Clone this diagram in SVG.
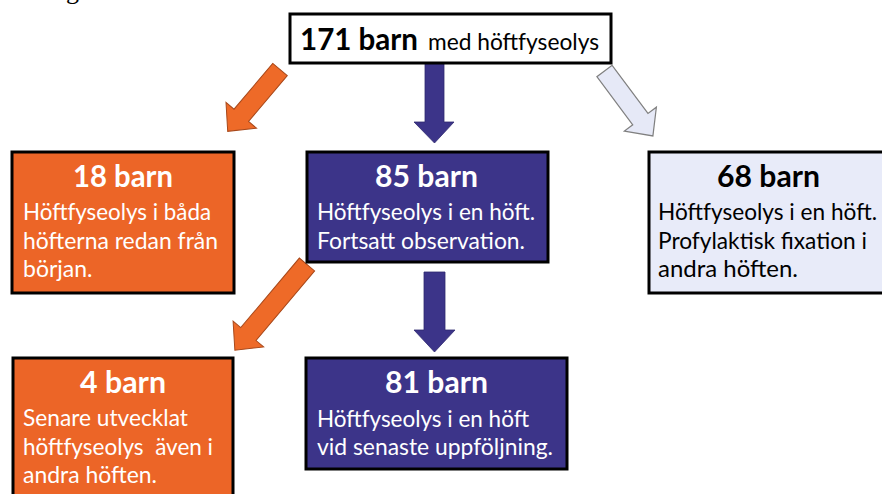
<svg xmlns="http://www.w3.org/2000/svg" width="882" height="494" viewBox="0 0 882 494">
<style>
.box{stroke:#000;stroke-width:3}
.or{fill:#EC6527}
.nv{fill:#3C3489}
.lt{fill:#E8EBF9}
.wt{fill:#fff}
text{font-family:Lato,"Open Sans","Liberation Sans",sans-serif}
.h{font-weight:bold;font-size:30px;text-anchor:middle}
.t{font-size:23px}
.arO{fill:#EE6A28;stroke:#A8481A;stroke-width:1}
.arN{fill:#3C3489;stroke:#2E2870;stroke-width:0.8}
.arL{fill:#E6E9F7;stroke:#808080;stroke-width:1.2}
</style>
<text x="66" y="-1" style="font-family:'Liberation Serif',serif;font-size:26px;fill:#000">g</text>
<g id="connectors">
<polygon class="arN" points="425,63 444,63 444,122 454,122 434.5,143 414,122 425,122"/>
<polygon class="arN" points="424,272 445,272 445,330 455,330 434.5,352 414,330 424,330"/>
<polygon class="arO" transform="translate(280,69.5) rotate(130.2)" points="0,-9.5 60,-9.5 60,-20 81,0 60,20 60,9.5 0,9.5"/>
<polygon class="arO" transform="translate(307,264.5) rotate(130.1)" points="0,-10 91,-10 91,-20 112,0 91,20 91,10 0,10"/>
<polygon class="arL" transform="translate(604.5,71) rotate(53.3)" points="0,-9.5 60,-9.5 60,-20 81,0 60,20 60,9.5 0,9.5"/>
</g>
<g id="n171">
<rect class="box" x="290" y="14" width="321" height="49" fill="#fff"/>
<text x="300" y="50" style="font-weight:bold;font-size:31px" textLength="118" lengthAdjust="spacingAndGlyphs">171 barn</text>
<text x="428" y="50" style="font-size:23px" textLength="171" lengthAdjust="spacingAndGlyphs">med höftfyseolys</text>
</g>
<g id="n18">
<rect class="box or" x="12" y="152" width="222" height="141"/>
<text class="h wt" x="123" y="187" textLength="100" lengthAdjust="spacingAndGlyphs">18 barn</text>
<text class="t wt" x="23" y="220" textLength="188" lengthAdjust="spacingAndGlyphs">Höftfyseolys i båda</text>
<text class="t wt" x="23" y="249" textLength="195" lengthAdjust="spacingAndGlyphs">höfterna redan från</text>
<text class="t wt" x="23" y="277">början.</text>
</g>
<g id="n85">
<rect class="box nv" x="307" y="152" width="241" height="110"/>
<text class="h wt" x="426.5" y="187" textLength="103" lengthAdjust="spacingAndGlyphs">85 barn</text>
<text class="t wt" x="317" y="220" textLength="218" lengthAdjust="spacingAndGlyphs">Höftfyseolys i en höft.</text>
<text class="t wt" x="317" y="249" textLength="208" lengthAdjust="spacingAndGlyphs">Fortsatt observation.</text>
</g>
<g id="n68">
<rect class="box lt" x="649" y="152" width="240" height="141"/>
<text class="h" x="768.5" y="187" textLength="103" lengthAdjust="spacingAndGlyphs">68 barn</text>
<text class="t" x="658" y="220" textLength="219" lengthAdjust="spacingAndGlyphs">Höftfyseolys i en höft.</text>
<text class="t" x="658" y="249" textLength="209" lengthAdjust="spacingAndGlyphs">Profylaktisk fixation i</text>
<text class="t" x="658" y="277" textLength="140" lengthAdjust="spacingAndGlyphs">andra höften.</text>
</g>
<g id="n4">
<rect class="box or" x="13" y="358" width="220" height="150"/>
<text class="h wt" x="123" y="393" textLength="86" lengthAdjust="spacingAndGlyphs">4 barn</text>
<text class="t wt" x="23" y="426" textLength="165" lengthAdjust="spacingAndGlyphs">Senare utvecklat</text>
<text class="t wt" x="23" y="455" textLength="190" lengthAdjust="spacingAndGlyphs" xml:space="preserve">höftfyseolys  även i</text>
<text class="t wt" x="23" y="483" textLength="134" lengthAdjust="spacingAndGlyphs">andra höften.</text>
</g>
<g id="n81">
<rect class="box nv" x="306" y="358" width="261" height="111"/>
<text class="h wt" x="436.5" y="393" textLength="103" lengthAdjust="spacingAndGlyphs">81 barn</text>
<text class="t wt" x="317" y="427" textLength="212" lengthAdjust="spacingAndGlyphs">Höftfyseolys i en höft</text>
<text class="t wt" x="317" y="455" textLength="236" lengthAdjust="spacingAndGlyphs">vid senaste uppföljning.</text>
</g>
</svg>
